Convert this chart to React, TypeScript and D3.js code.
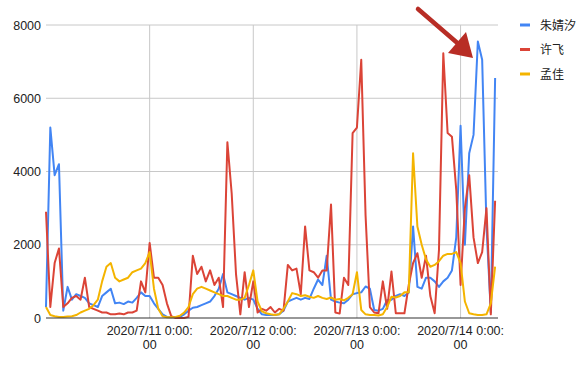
import React from "react";
import * as d3 from "d3";

// hourly readings, 2020/7/10 0:00 -> 2020/7/14 8:00
const startTime = new Date(2020, 6, 10, 0, 0);

const seriesNames = ["朱婧汐", "许飞", "孟佳"];
const seriesColors = ["#4285f4", "#db4437", "#f4b400"];

const zhuVals = [
  300, 5200, 3900, 4200, 200, 850, 500, 650, 600, 550, 400, 350, 300, 600, 700, 800, 400, 420, 380, 450, 420, 550, 700, 600,
  600, 400, 250, 100, 30, 20, 20, 30, 100, 200, 280, 300, 350, 400, 450, 600, 800, 1200, 700, 650, 600, 550, 500, 550,
  500, 250, 100, 80, 80, 80, 100, 200, 450, 500, 550, 500, 550, 520, 800, 1050, 900, 1700, 500, 450, 420, 400, 500, 650,
  680, 700, 860, 800, 220, 200, 250, 490, 500, 600, 650, 600, 700, 2500, 850, 800, 1100, 1100, 1000, 850, 1000, 1100, 1300, 2200,
  5250, 2000, 4500, 5000, 7550, 7050, 2500, 150, 6550,
];

const xuVals = [
  2900, 300, 1500, 1900, 300, 400, 550, 600, 500, 1100, 300, 250, 200, 150, 150, 100, 100, 120, 100, 150, 150, 200, 1000, 700,
  2050, 1100, 1100, 900, 400, 50, 0, 0, 0, 30, 1700, 1200, 1400, 1000, 1300, 900, 1100, 300, 4800, 3400, 1200, 100, 1250, 300,
  1000, 150, 250, 200, 300, 150, 250, 200, 1450, 1300, 1350, 650, 2500, 1300, 1250, 1100, 1300, 1300, 3100, 150, 120, 1100, 900, 5050,
  5200, 7050, 2800, 300, 150, 130, 1000, 250, 1270, 130, 130, 130, 900, 1500, 1770, 1100, 1700, 600, 130, 1860, 7230, 5050, 4950, 3500,
  900, 3000, 3900, 2200, 1500, 1800, 3000, 100, 3200,
];

const mengVals = [
  300, 80, 50, 30, 30, 40, 50, 80, 150, 200, 250, 350, 500, 1000, 1400, 1500, 1100, 1000, 1050, 1100, 1250, 1300, 1350, 1500,
  1800, 800, 250, 50, 20, 20, 30, 60, 150, 300, 650, 800, 850, 800, 750, 700, 650, 600, 600, 550, 500, 500, 550, 900,
  1300, 450, 180, 130, 100, 80, 100, 250, 450, 680, 650, 600, 620, 580, 550, 600, 550, 520, 560, 500, 520, 480, 550, 650,
  1250, 220, 100, 80, 80, 70, 100, 300, 580, 560, 600, 700, 700, 4500, 2500, 2000, 1600, 1400, 1450, 1550, 1700, 1750, 1750, 1800,
  1500, 450, 130, 100, 80, 80, 100, 400, 1400,
];

const yTicks = [0, 2000, 4000, 6000, 8000];
const xTickDays = [11, 12, 13, 14];

const W = 582;
const H = 370;

export default function App() {
  const x = d3
    .scaleTime()
    .domain([startTime, new Date(2020, 6, 14, 8, 40)])
    .range([46, 498]);
  const y = d3.scaleLinear().domain([0, 8000]).range([318, 25]);

  const allSeries = [zhuVals, xuVals, mengVals];
  const line = d3
    .line<number>()
    .x((d, i) => x(d3.timeHour.offset(startTime, i)))
    .y((d) => y(d));

  const font = "'Liberation Sans', Arial, sans-serif";

  return (
    <svg
      width={W}
      height={H}
      style={{ position: "absolute", left: 0, top: 0, background: "#fff" }}
    >
      {/* grid */}
      {yTicks
        .filter((t) => t > 0)
        .map((t) => (
          <line key={"h" + t} x1={46} x2={498} y1={y(t)} y2={y(t)} stroke="#c8c8c8" strokeWidth={1} />
        ))}
      {xTickDays.map((d) => {
        const xx = x(new Date(2020, 6, d, 0, 0));
        return <line key={"v" + d} x1={xx} x2={xx} y1={y(8000)} y2={y(0)} stroke="#c8c8c8" strokeWidth={1} />;
      })}

      {/* series */}
      {allSeries.map((vals, k) => (
        <path
          key={seriesNames[k]}
          d={line(vals) || ""}
          fill="none"
          stroke={seriesColors[k]}
          strokeWidth={2}
          strokeLinejoin="round"
        />
      ))}

      {/* baseline */}
      <line x1={46} x2={498} y1={y(0)} y2={y(0)} stroke="#333" strokeWidth={1.2} />

      {/* y labels */}
      {yTicks.map((t) => (
        <text key={"yl" + t} x={41} y={y(t) + 4.5} textAnchor="end" fontSize={12.5} fontFamily={font} fill="#222">
          {t}
        </text>
      ))}

      {/* x labels */}
      {xTickDays.map((d) => {
        const xx = x(new Date(2020, 6, d, 0, 0));
        return (
          <text key={"xl" + d} textAnchor="middle" fontSize={12.5} fontFamily={font} fill="#222">
            <tspan x={xx} y={335}>{`2020/7/${d} 0:00:`}</tspan>
            <tspan x={xx} y={349}>00</tspan>
          </text>
        );
      })}

      {/* legend */}
      {seriesNames.map((name, k) => (
        <g key={"lg" + name} transform={`translate(520, ${25 + k * 24.5})`}>
          <line x1={0} x2={10} y1={0} y2={0} stroke={seriesColors[k]} strokeWidth={3} />
          <text x={20} y={4.5} fontSize={12} fontFamily="'Noto Sans CJK SC', sans-serif" fill="#222">
            {name}
          </text>
        </g>
      ))}

      {/* annotation arrow */}
      <line x1={418} y1={9} x2={462} y2={47} stroke="#b82d25" strokeWidth={4.5} strokeLinecap="round" />
      <polygon points="448,53 473,58 466,32" fill="#b82d25" />
    </svg>
  );
}
